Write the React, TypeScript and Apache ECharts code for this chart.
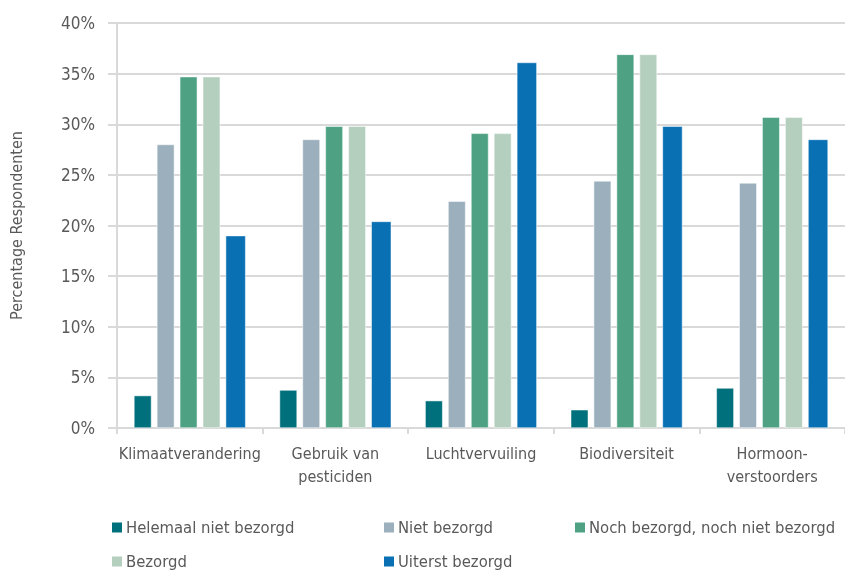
import React, { useEffect, useRef } from "react";
import * as echarts from "echarts";

const categories = ["Klimaatverandering", "Gebruik van\npesticiden", "Luchtvervuiling", "Biodiversiteit", "Hormoon-\nverstoorders"];
const seriesNames = ["Helemaal niet bezorgd", "Niet bezorgd", "Noch bezorgd, noch niet bezorgd", "Bezorgd", "Uiterst bezorgd"];
const helemaalNiet = [3.2, 3.75, 2.7, 1.8, 3.95];
const nietBezorgd = [28.0, 28.5, 22.4, 24.4, 24.2];
const noch = [34.7, 29.8, 29.1, 36.9, 30.7];
const bezorgd = [34.7, 29.8, 29.1, 36.9, 30.7];
const uiterst = [19.0, 20.4, 36.1, 29.8, 28.5];
const colors = ["#00717c", "#9bb0bc", "#4ea283", "#b5cfbf", "#0970b4"];

const FONT = "'Liberation Sans Narrow', 'DejaVu Sans Condensed', 'Roboto', sans-serif";

export default function App() {
  const ref = useRef<HTMLDivElement>(null);
  useEffect(() => {
    if (!ref.current) return;
    const chart = echarts.init(ref.current, undefined, { renderer: "svg" });
    const data = [helemaalNiet, nietBezorgd, noch, bezorgd, uiterst];
    const barWidths = [17.5, 17.5, 17.5, 17.5, 20];
    const legendPos = [
      [110, 529],
      [382, 529],
      [573, 529],
      [110, 563],
      [382, 563],
    ];
    const legends = seriesNames.map((name, i) => ({
      orient: "horizontal",
      icon: "rect",
      itemWidth: 12,
      itemHeight: 12,
      padding: 0,
      left: legendPos[i][0],
      top: legendPos[i][1] - 10,
      selectedMode: false,
      data: [name],
      textStyle: { fontFamily: FONT, fontSize: 16.5, color: "#595959", padding: [0, 0, 0, -2] },
    }));
    chart.setOption({
      animation: false,
      color: colors,
      textStyle: { fontFamily: FONT },
      grid: { left: 117, top: 23, right: -3, bottom: 146 },
      legend: legends,
      xAxis: {
        type: "category",
        data: categories,
        axisLine: { lineStyle: { color: "#d9d9d9", width: 2 } },
        axisTick: { show: true, length: 6, lineStyle: { color: "#d9d9d9", width: 2 } },
        axisLabel: { fontFamily: FONT, fontSize: 16, color: "#595959", margin: 14, lineHeight: 23, interval: 0 },
      },
      yAxis: {
        type: "value",
        min: 0,
        max: 40,
        interval: 5,
        name: "Percentage Respondenten",
        nameLocation: "middle",
        nameGap: 93,
        nameRotate: 90,
        nameTextStyle: { fontFamily: FONT, fontSize: 16, color: "#595959" },
        axisLine: { show: true, lineStyle: { color: "#d9d9d9", width: 2 } },
        axisTick: { show: true, length: 9, lineStyle: { color: "#d9d9d9", width: 2 } },
        splitLine: { lineStyle: { color: "#d9d9d9", width: 2 } },
        axisLabel: { fontFamily: FONT, fontSize: 17, color: "#595959", margin: 22, formatter: "{value}%" },
      },
      series: seriesNames.map((name, i) => ({
        name,
        type: "bar",
        data: data[i],
        barWidth: barWidths[i],
        barGap: "31%",
        itemStyle: { color: colors[i], borderColor: "#ffffff", borderWidth: 0.5 },
      })),
    });
    return () => chart.dispose();
  }, []);
  return <div ref={ref} style={{ position: "fixed", left: 0, top: 0, width: 845, height: 574 }} />;
}
